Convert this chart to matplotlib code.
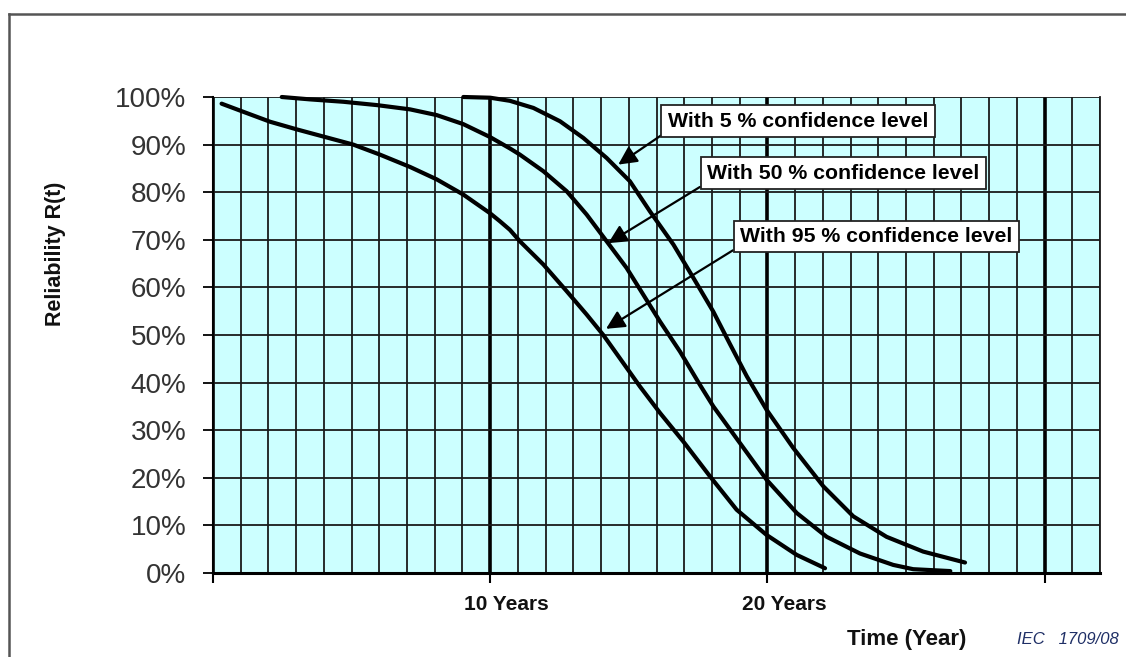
import matplotlib
matplotlib.use('Agg')
import matplotlib.pyplot as plt
from matplotlib.lines import Line2D
import numpy as np

plt.rcParams['font.family'] = ['Liberation Sans', 'DejaVu Sans']

# curves: years, reliability in %
t_95 = [0.31, 1.09, 2.06, 3.02, 4.04, 5.06, 6.02, 7.11, 8.07, 9.03, 9.99, 10.35, 10.71, 11.07,
        11.92, 12.76, 13.48, 14.08, 14.68, 15.40, 16.13, 16.97, 17.93, 18.89, 19.97, 21.06, 22.08]
r_95 = [98.6, 96.9, 94.8, 93.2, 91.6, 90.0, 87.9, 85.3, 82.7, 79.5, 75.6, 73.9, 72.1, 69.7,
        64.8, 59.2, 54.3, 50.0, 45.1, 39.2, 33.6, 27.6, 20.3, 13.3, 8.0, 3.8, 1.0]

t_50 = [2.48, 3.50, 4.70, 5.91, 7.11, 8.07, 9.03, 9.99, 10.71, 11.07, 11.92, 12.76, 13.48,
        14.20, 14.92, 15.52, 16.13, 16.85, 17.21, 17.57, 18.05, 19.01, 19.97, 21.06, 22.14,
        23.34, 24.54, 25.26, 26.6]
r_50 = [100.0, 99.5, 99.0, 98.3, 97.4, 96.2, 94.3, 91.6, 89.2, 87.9, 84.4, 80.2, 75.3,
        69.7, 64.1, 58.5, 52.8, 46.5, 43.0, 39.5, 35.0, 27.3, 19.6, 12.6, 7.6,
        4.1, 1.7, 0.8, 0.4]

t_5 = [9.03, 10.0, 10.71, 11.56, 12.52, 13.36, 14.20, 15.04, 15.76, 16.61, 17.33, 18.05,
       18.65, 19.26, 19.97, 20.93, 22.02, 23.10, 24.30, 25.62, 27.13]
r_5 = [100.0, 99.85, 99.2, 97.7, 94.9, 91.4, 87.2, 82.3, 76.0, 69.0, 62.0, 54.9,
       48.1, 41.3, 34.3, 26.3, 18.2, 11.9, 7.6, 4.5, 2.2]

labels = ['With 5 % confidence level', 'With 50 % confidence level', 'With 95 % confidence level']
label_xy = [(16.41, 94.9), (17.82, 84.0), (19.01, 70.7)]
arrow_tip = [(14.62, 85.8), (14.26, 69.3), (14.18, 51.3)]

yticks = np.arange(0, 101, 10)
ytick_labels = ['%d%%' % v for v in yticks]

fig = plt.figure(figsize=(11.26, 6.57), dpi=100)
ax = fig.add_axes([213/1126, 84/657, 887/1126, 476/657])
ax.set_facecolor('#CCFFFF')

ax.set_xlim(0, 32)
ax.set_ylim(0, 100)

ax.set_xticks([0, 10, 20, 30])
ax.set_xticks(np.arange(0, 33), minor=True)
ax.set_xticklabels([])
ax.set_yticks(yticks)
ax.set_yticklabels(ytick_labels, fontsize=20, color='#333333')

ax.grid(which='minor', axis='x', color='#1a1a1a', lw=1.3)
ax.grid(which='major', axis='x', color='#000000', lw=2.6)
ax.grid(which='major', axis='y', color='#1a1a1a', lw=1.3)
ax.set_axisbelow(True)

ax.tick_params(axis='y', direction='out', length=7, width=1.3, pad=12)
ax.tick_params(axis='x', which='major', direction='out', length=7, width=1.5)
ax.tick_params(axis='x', which='minor', length=0)

ax.spines['top'].set_visible(False)
ax.spines['right'].set_color('#1a1a1a')
ax.spines['right'].set_linewidth(1.3)
ax.spines['left'].set_linewidth(1.5)
ax.spines['bottom'].set_linewidth(2.2)

ax.plot(t_95, r_95, color='black', lw=3, solid_capstyle='round', solid_joinstyle='round', clip_on=False)
ax.plot(t_50, r_50, color='black', lw=3, solid_capstyle='round', solid_joinstyle='round', clip_on=False)
ax.plot(t_5, r_5, color='black', lw=3, solid_capstyle='round', solid_joinstyle='round', clip_on=False)

for lab, xy, tip in zip(labels, label_xy, arrow_tip):
    ax.annotate(lab, xy=tip, xytext=xy, ha='left', va='center',
                fontsize=15.3, fontweight='bold',
                bbox=dict(boxstyle='square,pad=0.3', fc='white', ec='#222222', lw=1.3),
                arrowprops=dict(arrowstyle='-|>', mutation_scale=28, lw=1.6,
                                color='black', relpos=(0, 0), shrinkA=0, shrinkB=0))

xtr = ax.get_xaxis_transform()
ax.text(10.6, -0.067, '10 Years', transform=xtr, ha='center', va='center',
        fontsize=15, fontweight='bold', color='#111111')
ax.text(20.6, -0.067, '20 Years', transform=xtr, ha='center', va='center',
        fontsize=15, fontweight='bold', color='#111111')

fig.text(907/1126, 1 - 640/657, 'Time (Year)', ha='center', va='center',
         fontsize=16, fontweight='bold', color='#111111')
fig.text(1017/1126, 1 - 640/657, 'IEC   1709/08', ha='left', va='center',
         fontsize=12, fontstyle='italic', color='#1F2F66')
fig.text(55/1126, 1 - 254/657, 'Reliability R(t)', ha='center', va='center',
         rotation=90, fontsize=15.5, fontweight='bold', color='#111111')

# outer frame
fig.add_artist(Line2D([9/1126, 9/1126], [0, 1 - 14/657], color='#555555', lw=1.8))
fig.add_artist(Line2D([9/1126, 1], [1 - 14/657, 1 - 14/657], color='#555555', lw=1.8))

fig.savefig('out.png', dpi=100)
